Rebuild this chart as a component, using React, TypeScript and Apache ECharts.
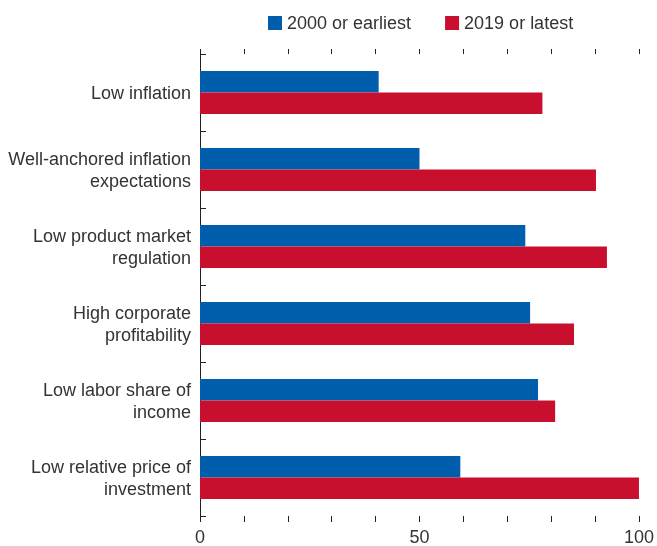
import React, { useEffect, useRef } from "react";
import * as echarts from "echarts";

const categories = [
  "Low inflation",
  "Well-anchored inflation\nexpectations",
  "Low product market\nregulation",
  "High corporate\nprofitability",
  "Low labor share of\nincome",
  "Low relative price of\ninvestment",
];
const seriesNames = ["2000 or earliest", "2019 or latest"];
const earliest = [40.7, 50, 74.1, 75.2, 77, 59.3];
const latest = [78, 90.2, 92.7, 85.2, 80.9, 100];
const xTickLabels = ["0", "50", "100"];

const FONT = "'Liberation Sans', Arial, sans-serif";

export default function App() {
  const ref = useRef<HTMLDivElement>(null);
  useEffect(() => {
    if (!ref.current) return;
    const chart = echarts.init(ref.current, null, { renderer: "svg" });
    chart.setOption({
      animation: false,
      textStyle: { fontFamily: FONT },
      legend: {
        top: 9,
        left: 263,
        itemWidth: 14,
        itemHeight: 14,
        itemGap: 34,
        icon: "rect",
        textStyle: { fontFamily: FONT, fontSize: 18, color: "#333" },
        data: seriesNames,
      },
      grid: { left: 200, right: 17, top: 54, bottom: 30 },
      xAxis: [
        {
          type: "value",
          position: "bottom",
          min: 0,
          max: 100,
          interval: 10,
          axisLine: { show: false },
          axisTick: { show: true, length: 6, lineStyle: { color: "#222" } },
          splitLine: { show: false },
          axisLabel: {
            fontFamily: FONT,
            fontSize: 18,
            color: "#333",
            margin: 12,
            formatter: (v: number) => (xTickLabels.includes(String(v)) ? String(v) : ""),
          },
        },
        {
          type: "value",
          position: "top",
          min: 0,
          max: 100,
          interval: 10,
          axisLine: { show: false },
          axisTick: { show: true, length: 5, lineStyle: { color: "#222" } },
          splitLine: { show: false },
          axisLabel: { show: false },
        },
      ],
      yAxis: {
        type: "category",
        inverse: true,
        data: categories,
        axisLine: { show: true, lineStyle: { color: "#222", width: 1 } },
        axisTick: { show: true, inside: true, length: 6, lineStyle: { color: "#222" } },
        axisLabel: {
          fontFamily: FONT,
          fontSize: 18,
          color: "#333",
          margin: 9,
          lineHeight: 22,
          align: "right",
        },
      },
      series: [
        {
          name: seriesNames[0],
          type: "bar",
          data: earliest,
          barGap: "0%",
          barCategoryGap: "44%",
          itemStyle: { color: "#005EAD" },
        },
        {
          name: seriesNames[1],
          type: "bar",
          data: latest,
          barGap: "0%",
          barCategoryGap: "44%",
          itemStyle: { color: "#C8102E" },
        },
      ],
    });
    return () => chart.dispose();
  }, []);
  return (
    <div
      ref={ref}
      style={{ position: "fixed", left: 0, top: 0, width: 657, height: 546 }}
    />
  );
}
